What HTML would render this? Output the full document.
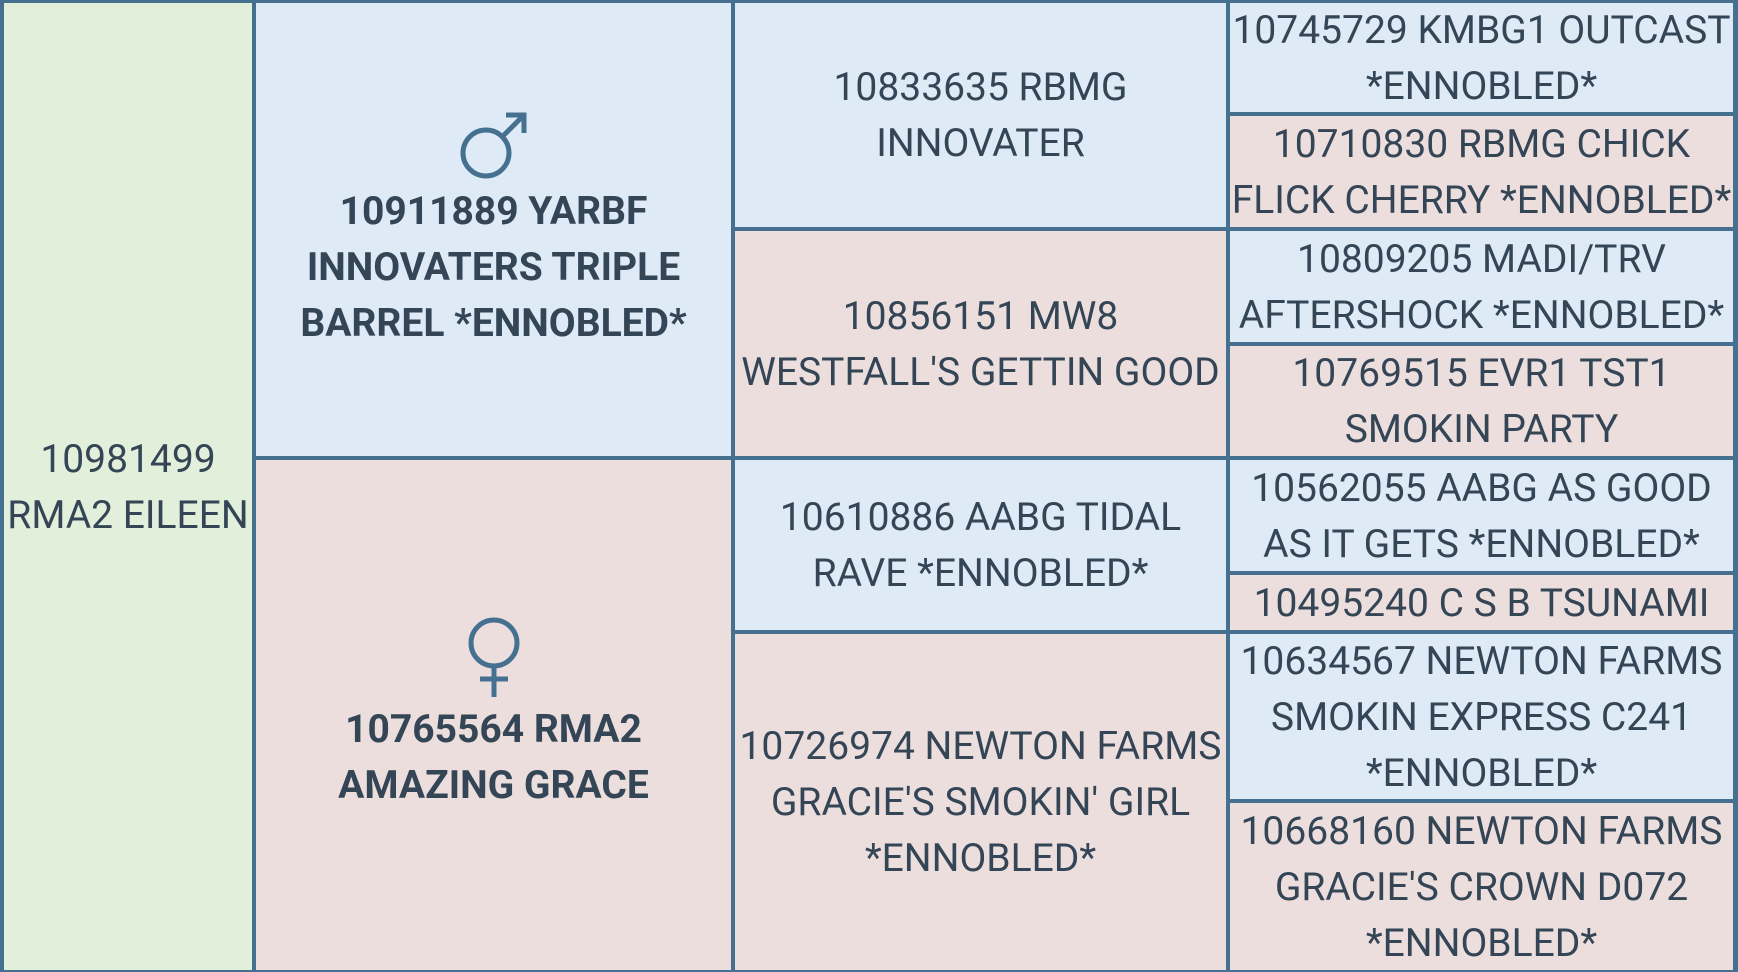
<!DOCTYPE html>
<html><head><meta charset="utf-8"><style>
body{margin:0;width:1738px;height:972px;background:#45708f;overflow:hidden;position:relative;font-family:"Roboto","Liberation Sans",sans-serif;color:#344556}
.c{position:absolute;display:flex;flex-direction:column;align-items:center;justify-content:center;text-align:center;font-size:39px;line-height:56px;white-space:nowrap}
.b{background:#deebf6}.p{background:#eddede}.g{background:#e2efda}
.bold{font-weight:bold}
svg{display:block}
</style></head><body>
<div class="c g" style="left:4px;top:3px;width:248px;height:967px">10981499<br>RMA2 EILEEN</div>
<div class="c b bold" style="left:256px;top:3px;width:475px;height:453px"><svg width="80" height="72" viewBox="0 0 80 72" style="margin-bottom:2px"><circle cx="32" cy="44" r="23" fill="none" stroke="#45708f" stroke-width="5"/><path d="M49 27 L70 6 M52 6 H70 V24" fill="none" stroke="#45708f" stroke-width="5"/></svg>10911889 YARBF<br>INNOVATERS TRIPLE<br>BARREL *ENNOBLED*</div>
<div class="c p bold" style="left:256px;top:460px;width:475px;height:510px"><svg width="60" height="80" viewBox="0 0 60 80" style="margin-bottom:4px"><circle cx="30" cy="26" r="23" fill="none" stroke="#45708f" stroke-width="5"/><path d="M30 49 V80 M16 62 H44" fill="none" stroke="#45708f" stroke-width="5"/></svg>10765564 RMA2<br>AMAZING GRACE</div>
<div class="c b" style="left:735px;top:3px;width:491px;height:224px">10833635 RBMG<br>INNOVATER</div>
<div class="c p" style="left:735px;top:231px;width:491px;height:225px">10856151 MW8<br>WESTFALL'S GETTIN GOOD</div>
<div class="c b" style="left:735px;top:460px;width:491px;height:170px">10610886 AABG TIDAL<br>RAVE *ENNOBLED*</div>
<div class="c p" style="left:735px;top:634px;width:491px;height:336px">10726974 NEWTON FARMS<br>GRACIE'S SMOKIN' GIRL<br>*ENNOBLED*</div>
<div class="c b" style="left:1230px;top:3px;width:503px;height:109px">10745729 KMBG1 OUTCAST<br>*ENNOBLED*</div>
<div class="c p" style="left:1230px;top:116px;width:503px;height:111px">10710830 RBMG CHICK<br>FLICK CHERRY *ENNOBLED*</div>
<div class="c b" style="left:1230px;top:231px;width:503px;height:111px">10809205 MADI/TRV<br>AFTERSHOCK *ENNOBLED*</div>
<div class="c p" style="left:1230px;top:346px;width:503px;height:110px">10769515 EVR1 TST1<br>SMOKIN PARTY</div>
<div class="c b" style="left:1230px;top:460px;width:503px;height:111px">10562055 AABG AS GOOD<br>AS IT GETS *ENNOBLED*</div>
<div class="c p" style="left:1230px;top:575px;width:503px;height:55px">10495240 C S B TSUNAMI</div>
<div class="c b" style="left:1230px;top:634px;width:503px;height:165px">10634567 NEWTON FARMS<br>SMOKIN EXPRESS C241<br>*ENNOBLED*</div>
<div class="c p" style="left:1230px;top:803px;width:503px;height:167px">10668160 NEWTON FARMS<br>GRACIE'S CROWN D072<br>*ENNOBLED*</div>
</body></html>
